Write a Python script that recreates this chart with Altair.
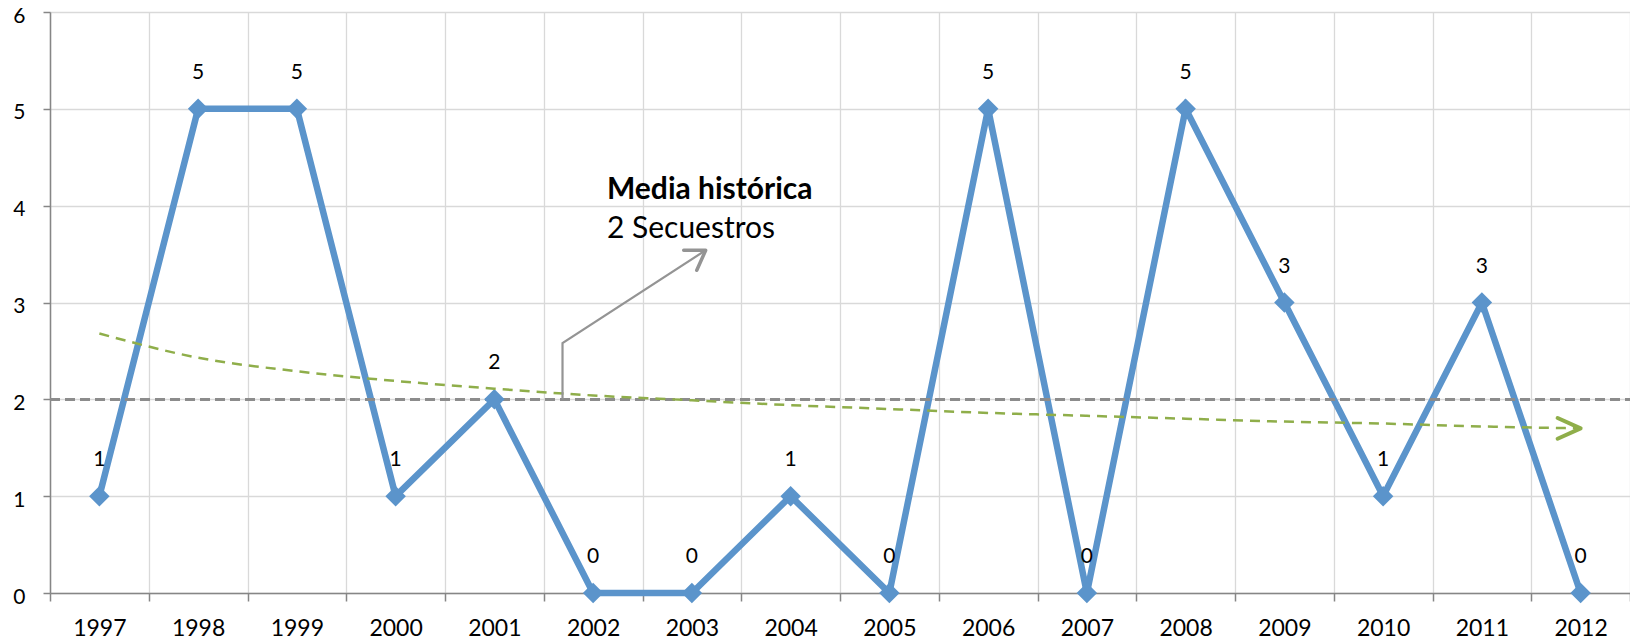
import altair as alt
import pandas as pd

# ---- data ----
years = list(range(1997, 2013))
secuestros = [1, 5, 5, 1, 2, 0, 0, 1, 0, 5, 0, 5, 3, 1, 3, 0]
tendencia = [2.68, 2.43, 2.29, 2.19, 2.11, 2.04, 1.99, 1.94, 1.90, 1.86,
             1.83, 1.80, 1.77, 1.75, 1.72, 1.70]
media = 2
annot_x = [2001.69, 2001.69, 2003.14]
annot_y = [2.0, 2.58, 3.54]
annot_title = "Media histórica"
annot_sub = "2 Secuestros"
annot_text_x = 2002.14
annot_text_y = [4.07, 3.67]

df = pd.DataFrame({"year": years, "value": secuestros, "trend": tendencia})
df_last = df.tail(1)
df_annot = pd.DataFrame({"x": annot_x, "y": annot_y, "o": list(range(len(annot_x)))})
df_head = df_annot.tail(1)
df_txt = pd.DataFrame({"x": [annot_text_x, annot_text_x], "y": annot_text_y,
                       "t": [annot_title, annot_sub]})

W, H = 1580, 581
half = W / len(years) / 2

BLUE = "#5B94CB"
GREEN = "#8FAE4A"
GRAY = "#8C8C8C"
FONT = "Lato"

xscale = alt.Scale(domain=[1996.5, 2012.5], nice=False, zero=False)
yscale = alt.Scale(domain=[0, 6], nice=False, zero=True)

xaxis = alt.Axis(
    values=[y - 0.5 for y in years] + [2012.5],
    labelExpr="datum.value < 2012 ? format(datum.value + 0.5, 'd') : ''",
    labelOffset=half, grid=True, gridColor="#d9d9d9", gridWidth=1.3,
    tickColor="#868686", tickSize=8, tickWidth=1.5,
    domainColor="#868686", domainWidth=1.5,
    labelFont=FONT, labelFontSize=23, labelColor="#000000",
    labelPadding=16, labelBaseline="top",
    labelOverlap=False, labelBound=False, labelFlush=False, title=None,
)
yaxis = alt.Axis(
    values=[0, 1, 2, 3, 4, 5, 6], grid=True, gridColor="#d9d9d9", gridWidth=1.3,
    tickColor="#868686", tickSize=7, tickWidth=1.5,
    domainColor="#868686", domainWidth=1.5,
    labelFont=FONT, labelFontSize=21, labelColor="#000000",
    labelPadding=18, labelOffset=4, labelBaseline="middle",
    labelOverlap=False, labelBound=False, title=None,
)


def X(field):
    return alt.X(field, type="quantitative", scale=xscale, axis=xaxis, title=None)


def Y(field):
    return alt.Y(field, type="quantitative", scale=yscale, axis=yaxis, title=None)


base = alt.Chart(df)

mean_rule = alt.Chart(df).mark_rule(
    color=GRAY, strokeWidth=2.5, strokeDash=[10, 5]
).encode(y=alt.datum(media, scale=yscale, axis=yaxis), x=alt.value(0), x2=alt.value(W))

line = base.mark_line(color=BLUE, strokeWidth=6.5).encode(x=X("year"), y=Y("value"))
pts = base.mark_point(shape="diamond", filled=True, color=BLUE, size=420, opacity=1).encode(
    x=X("year"), y=Y("value"))

trend = base.mark_line(color=GREEN, strokeWidth=2.5, strokeDash=[10, 7],
                       interpolate="monotone").encode(x=X("year"), y=Y("trend"))
trend_head = alt.Chart(df_last).mark_point(
    shape="M-1,-0.45L0,0L-1,0.45", filled=False, color=GREEN, strokeWidth=4,
    size=2116, opacity=1, strokeCap="round", strokeJoin="round",
).encode(x=X("year"), y=Y("trend"))

labels = base.mark_text(dy=-36, baseline="middle", align="center", font=FONT,
                        fontSize=21, color="#000000").encode(
    x=X("year"), y=Y("value"), text=alt.Text("value:Q", format="d"))

annot_line = alt.Chart(df_annot).mark_line(color="#949494", strokeWidth=2.2).encode(
    x=X("x"), y=Y("y"), order="o:Q")
annot_head = alt.Chart(df_head).mark_point(
    shape="M-1,-0.65L0,0L-1,0.65", filled=False, color="#949494", strokeWidth=3.5,
    size=1360, angle=327, opacity=1, strokeCap="round", strokeJoin="round",
).encode(x=X("x"), y=Y("y"))

txt_bold = alt.Chart(df_txt.head(1)).mark_text(
    align="left", baseline="alphabetic", font=FONT, fontSize=30, fontWeight="bold",
    color="#000000").encode(x=X("x"), y=Y("y"), text="t:N")
txt_reg = alt.Chart(df_txt.tail(1)).mark_text(
    align="left", baseline="alphabetic", font=FONT, fontSize=30,
    color="#000000").encode(x=X("x"), y=Y("y"), text="t:N")

chart = alt.layer(
    line, mean_rule, pts, trend, trend_head, labels, annot_line, annot_head, txt_bold, txt_reg
).properties(
    width=W, height=H,
    padding={"left": 42, "top": 4, "right": 0, "bottom": 48},
    autosize=alt.AutoSizeParams(type="none"),
).configure_view(stroke=None).configure(background="white")

chart.save("out.html", embed_options={"renderer": "svg", "actions": False})
